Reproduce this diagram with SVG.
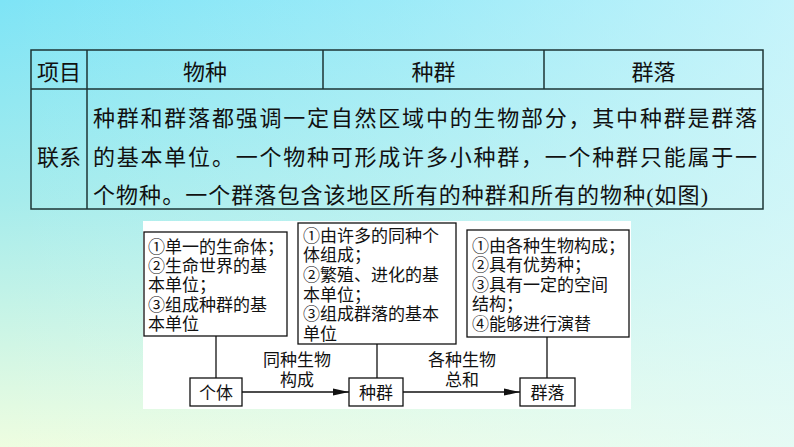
<svg xmlns="http://www.w3.org/2000/svg" width="794" height="447" viewBox="0 0 794 447">
<defs>
<linearGradient id="bgV" x1="0" y1="0" x2="0" y2="1">
<stop offset="0" stop-color="#7ee4f6"/>
<stop offset="0.45" stop-color="#a6ecec"/>
<stop offset="1" stop-color="#eefde0"/>
</linearGradient>
<linearGradient id="bgH" x1="0" y1="0" x2="1" y2="0">
<stop offset="0" stop-color="#e2fafd" stop-opacity="0"/>
<stop offset="0.5" stop-color="#e2fafd" stop-opacity="0.3"/>
<stop offset="1" stop-color="#e2fafd" stop-opacity="0.7"/>
</linearGradient>
<marker id="arr" viewBox="0 0 16 8" refX="16" refY="4" markerWidth="16" markerHeight="8" markerUnits="userSpaceOnUse" orient="auto">
<path d="M0,0.5 L16,4 L0,7.5 Z" fill="#111"/>
</marker>
<style>
.t{font-family:"Liberation Serif","Noto Sans CJK SC",serif;fill:#111;}
.tb{font-size:22px;}
.d{font-size:17px;}
.mid{text-anchor:middle;}
.tl{stroke:#1d3434;stroke-width:1.5;fill:none;}
.bx{fill:#fff;stroke:#111;stroke-width:1.3;}
.ln{stroke:#111;stroke-width:1.3;fill:none;}
</style>
</defs>
<rect x="0" y="0" width="794" height="447" fill="url(#bgV)"/>
<rect x="0" y="0" width="794" height="447" fill="url(#bgH)"/>

<g id="table">
<rect class="tl" x="31" y="50" width="732" height="159"/>
<line class="tl" x1="31" y1="89" x2="763" y2="89"/>
<line class="tl" x1="87" y1="50" x2="87" y2="209"/>
<line class="tl" x1="323" y1="50" x2="323" y2="89"/>
<line class="tl" x1="544" y1="50" x2="544" y2="89"/>
<text class="t tb mid" x="59" y="80">项目</text>
<text class="t tb mid" x="205" y="80">物种</text>
<text class="t tb mid" x="433.5" y="80">种群</text>
<text class="t tb mid" x="653.5" y="80">群落</text>
<text class="t tb mid" x="59" y="165">联系</text>
<text class="t tb" x="93" y="126" textLength="664" lengthAdjust="spacing">种群和群落都强调一定自然区域中的生物部分，其中种群是群落</text>
<text class="t tb" x="93" y="164.5" textLength="664" lengthAdjust="spacing">的基本单位。一个物种可形成许多小种群，一个种群只能属于一</text>
<text class="t tb" x="93" y="202.5" textLength="615" lengthAdjust="spacing">个物种。一个群落包含该地区所有的种群和所有的物种(如图)</text>
</g>

<rect x="143" y="221" width="488" height="188" fill="#fff"/>

<g id="connectors">
<line class="ln" x1="216" y1="336" x2="216" y2="378"/>
<line class="ln" x1="377" y1="344" x2="377" y2="378"/>
<line class="ln" x1="547" y1="337" x2="547" y2="378"/>
<line class="ln" x1="242" y1="392" x2="349" y2="392" marker-end="url(#arr)"/>
<line class="ln" x1="403" y1="392" x2="520" y2="392" marker-end="url(#arr)"/>
<text class="t d mid" x="297" y="366">同种生物</text>
<text class="t d mid" x="297" y="385.5">构成</text>
<text class="t d mid" x="462" y="366">各种生物</text>
<text class="t d mid" x="462" y="385.5">总和</text>
</g>

<g id="box1">
<rect class="bx" x="144" y="232" width="143" height="104"/>
<text class="t d" x="148" y="253">①<tspan x="165">单一的生命体；</tspan></text>
<text class="t d" x="148" y="272.2">②<tspan x="165">生命世界的基</tspan></text>
<text class="t d" x="148" y="291.4">本单位；</text>
<text class="t d" x="148" y="310.6">③<tspan x="165">组成种群的基</tspan></text>
<text class="t d" x="148" y="329.8">本单位</text>
</g>

<g id="box2">
<rect class="bx" x="298" y="223" width="158" height="121"/>
<text class="t d" x="303" y="241.5">①<tspan x="320">由许多的同种个</tspan></text>
<text class="t d" x="303" y="261.2">体组成；</text>
<text class="t d" x="303" y="280.9">②<tspan x="320">繁殖、进化的基</tspan></text>
<text class="t d" x="303" y="300.6">本单位；</text>
<text class="t d" x="303" y="320.3">③<tspan x="320">组成群落的基本</tspan></text>
<text class="t d" x="303" y="340">单位</text>
</g>

<g id="box3">
<rect class="bx" x="467" y="230" width="162" height="107"/>
<text class="t d" x="472" y="251.5">①<tspan x="489">由各种生物构成；</tspan></text>
<text class="t d" x="472" y="271">②<tspan x="489">具有优势种；</tspan></text>
<text class="t d" x="472" y="290.5">③<tspan x="489">具有一定的空间</tspan></text>
<text class="t d" x="472" y="310">结构；</text>
<text class="t d" x="472" y="329.5">④<tspan x="489">能够进行演替</tspan></text>
</g>

<g id="geti">
<rect class="bx" x="190" y="378" width="52" height="28"/>
<text class="t d mid" x="216" y="398.5">个体</text>
</g>
<g id="zhongqun">
<rect class="bx" x="349" y="378" width="54" height="28"/>
<text class="t d mid" x="376" y="398.5">种群</text>
</g>
<g id="qunluo">
<rect class="bx" x="520" y="378" width="55" height="28"/>
<text class="t d mid" x="547.5" y="398.5">群落</text>
</g>
</svg>
